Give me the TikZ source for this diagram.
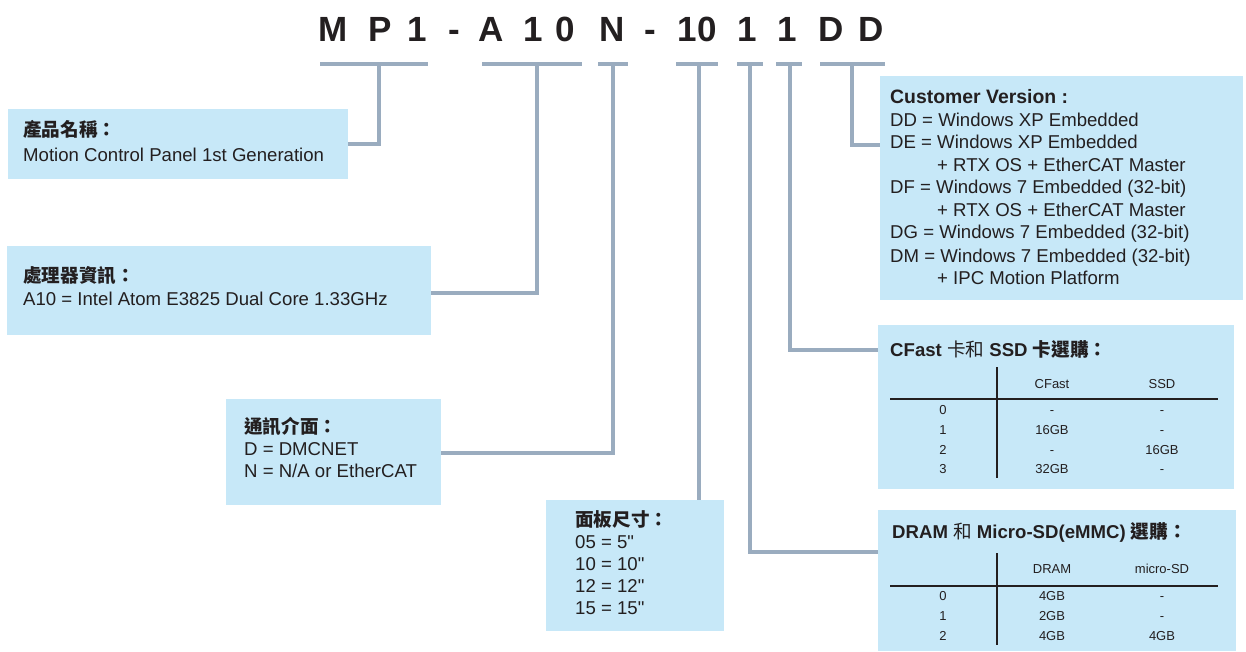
\documentclass[tikz,border=0pt]{standalone}
\usepackage{fontspec}
\setmainfont{Liberation Sans}[Ligatures=TeXOff]
\newfontfamily\cjk{Noto Sans CJK TC}
\definecolor{boxblue}{HTML}{C7E8F8}
\definecolor{linegray}{HTML}{9AACBF}
\definecolor{txtcol}{HTML}{231F20}
\begin{document}
\begin{tikzpicture}[x=1pt,y=-1pt,
  box/.style={fill=boxblue, draw=none, inner sep=0pt, anchor=north west},
  txt/.style={anchor=base west, inner sep=0pt, text=txtcol, font=\fontsize{18.6}{22}\selectfont},
  ttl/.style={anchor=base, inner sep=0pt, text=txtcol, font=\fontsize{35}{40}\selectfont\bfseries},
  tbl/.style={anchor=base, inner sep=0pt, text=txtcol, font=\fontsize{13}{15}\selectfont},
  bar/.style={draw=linegray, line width=4pt},
  conn/.style={draw=linegray, line width=4pt},
  rule/.style={draw=txtcol, line width=1.2pt}]
\useasboundingbox (0,0) rectangle (1246,652);

% title characters
\foreach \ch/\xx [count=\i] in {M/333, P/380, 1/417, -/454, A/491, 1/533, 0/565, N/612, -/650, 10/697, 1/747, 1/787, D/831, D/871}
  \node[ttl] (t\i) at (\xx,42) {\ch};

% bars
\coordinate (s1) at (379,64.5); \path[bar] (320,64.5) -- (428,64.5);
\coordinate (s2) at (537,64.5); \path[bar] (482,64.5) -- (582,64.5);
\coordinate (s3) at (613,64.5); \path[bar] (598,64.5) -- (628,64.5);
\coordinate (s4) at (699,64.5); \path[bar] (676,64.5) -- (718,64.5);
\coordinate (s5) at (750,64.5); \path[bar] (737,64.5) -- (763,64.5);
\coordinate (s6) at (790,64.5); \path[bar] (776,64.5) -- (802,64.5);
\coordinate (s7) at (852,64.5); \path[bar] (820,64.5) -- (885,64.5);

% boxes
\node[box, minimum width=340pt, minimum height=70pt] (b1) at (8,109) {};
\node[box, minimum width=424pt, minimum height=89pt] (b2) at (7,246) {};
\node[box, minimum width=215pt, minimum height=106pt] (b3) at (226,399) {};
\node[box, minimum width=178pt, minimum height=131pt] (b4) at (546,500) {};
\node[box, minimum width=363pt, minimum height=224pt] (b7) at (880,76) {};
\node[box, minimum width=356pt, minimum height=164pt] (b6) at (878,325) {};
\node[box, minimum width=358pt, minimum height=141pt] (b5) at (878,510) {};

% connectors
\path[conn] (s1) |- (b1.east);
\path[conn] (s2) |- (b2.east |- 0,293);
\path[conn] (s3) |- (b3.east |- 0,453);
\path[conn] (s4) -- (s4 |- b4.north);
\path[conn] (s5) |- (b5.west |- 0,552);
\path[conn] (s6) |- (b6.west |- 0,350);
\path[conn] (s7) |- (b7.west |- 0,145);

% box 1
\node[txt] (b1a) at (23,137) {{\cjk\bfseries 產品名稱：}};
\node[txt] (b1b) at (23,162) {Motion Control Panel 1st Generation};
% box 2
\node[txt] (b2a) at (23,282) {{\cjk\bfseries 處理器資訊：}};
\node[txt] (b2b) at (23,305) {A10 = Intel Atom E3825 Dual Core 1.33GHz};
% box 3
\node[txt] (b3a) at (244,433) {{\cjk\bfseries 通訊介面：}};
\node[txt] (b3b) at (244,455) {D = DMCNET};
\node[txt] (b3c) at (244,477) {N = N/A or EtherCAT};
% box 4
\node[txt] (b4a) at (575,526) {{\cjk\bfseries 面板尺寸：}};
\node[txt] (b4b) at (575,548) {05 = 5"};
\node[txt] (b4c) at (575,570) {10 = 10"};
\node[txt] (b4d) at (575,592) {12 = 12"};
\node[txt] (b4e) at (575,614) {15 = 15"};
% customer version
\node[txt] (c1) at (890,104) {\fontsize{19.4}{22}\selectfont\bfseries Customer Version :};
\node[txt] (c2) at (890,127) {DD = Windows XP Embedded};
\node[txt] (c3) at (890,149) {DE = Windows XP Embedded};
\node[txt] (c4) at (937,172) {+ RTX OS + EtherCAT Master};
\node[txt] (c5) at (890,194) {DF = Windows 7 Embedded (32-bit)};
\node[txt] (c6) at (937,217) {+ RTX OS + EtherCAT Master};
\node[txt] (c7) at (890,239) {DG = Windows 7 Embedded (32-bit)};
\node[txt] (c8) at (890,262) {DM = Windows 7 Embedded (32-bit)};
\node[txt] (c9) at (937,284) {+ IPC Motion Platform};

% CFast table
\node[txt] (f0) at (890,356) {\bfseries CFast {\cjk\mdseries 卡和} SSD {\cjk 卡選購：}};
\draw[rule] (997,367) -- (997,478);
\draw[rule] (890,399) -- (1218,399);
\node[tbl] (fh1) at (1052,388) {CFast};
\node[tbl] (fh2) at (1162,388) {SSD};
\foreach \r/\a/\b/\yy in {0/-/-/414, 1/16GB/-/434, 2/-/16GB/454, 3/32GB/-/473}{
  \node[tbl] at (943,\yy) {\r};
  \node[tbl] at (1052,\yy) {\a};
  \node[tbl] at (1162,\yy) {\b};
}

% DRAM table
\node[txt] (d0) at (892,538) {\bfseries DRAM {\cjk\mdseries 和} Micro-SD(eMMC) {\cjk 選購：}};
\draw[rule] (997,553) -- (997,645);
\draw[rule] (890,586) -- (1218,586);
\node[tbl] (dh1) at (1052,573) {DRAM};
\node[tbl] (dh2) at (1162,573) {micro-SD};
\foreach \r/\a/\b/\yy in {0/4GB/-/600, 1/2GB/-/620, 2/4GB/4GB/640}{
  \node[tbl] at (943,\yy) {\r};
  \node[tbl] at (1052,\yy) {\a};
  \node[tbl] at (1162,\yy) {\b};
}
\end{tikzpicture}
\end{document}
